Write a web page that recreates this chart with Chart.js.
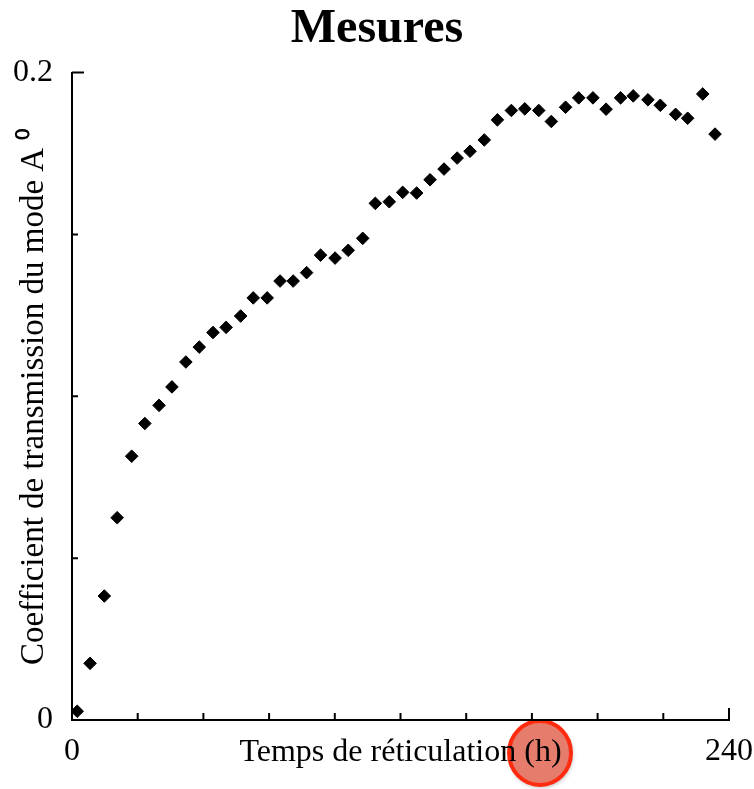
<!DOCTYPE html>
<html>
<head>
<meta charset="utf-8">
<script src="https://cdn.jsdelivr.net/npm/chart.js@4.4.1/dist/chart.umd.min.js"></script>
<style>
  html, body { margin: 0; padding: 0; background: #fff; }
  #wrap { width: 754px; height: 789px; position: relative; }
</style>
</head>
<body>
<div id="wrap"><canvas id="chart"></canvas></div>
<script>
// Temps de réticulation (h)
const timeHours = [
    1.9, 6.6, 11.8, 16.5, 21.8, 26.6, 31.8, 36.5, 41.6, 46.5,
    51.5, 56.3, 61.6, 66.2, 71.3, 76.0, 80.8, 85.7, 90.8, 96.1,
    100.9, 106.2, 110.8, 115.9, 120.8, 125.9, 130.8, 135.9, 140.7, 145.4,
    150.6, 155.4, 160.5, 165.4, 170.5, 175.1, 180.3, 185.1, 190.3, 195.1,
    200.4, 205.0, 210.4, 214.9, 220.5, 224.9, 230.4, 234.9
];
// Coefficient de transmission du mode A0
const coefficient = [
    0.0027, 0.0175, 0.0383, 0.0625, 0.0815, 0.0916, 0.0972, 0.1029, 0.1106, 0.1152,
    0.1197, 0.1213, 0.1248, 0.1304, 0.1304, 0.1356, 0.1356, 0.1382, 0.1436, 0.1427,
    0.1451, 0.1488, 0.1596, 0.1601, 0.1630, 0.1628, 0.1669, 0.1702, 0.1736, 0.1757,
    0.1792, 0.1854, 0.1883, 0.1888, 0.1883, 0.1849, 0.1893, 0.1922, 0.1922, 0.1887,
    0.1922, 0.1928, 0.1916, 0.1899, 0.1871, 0.1859, 0.1934, 0.1810
];

// seuls ces repères portent une étiquette
const xLabelValues = [0, 240];
const xLabelTexts = ['0', '240'];
const yLabelValues = [0, 0.2];
const yLabelTexts = ['0', '0.2'];

const serif = "'Liberation Serif', 'Times New Roman', serif";

function pickLabel(value, values, texts) {
    const i = values.findIndex(v => Math.abs(v - value) < 1e-9);
    return i >= 0 ? texts[i] : '';
}

// petits repères tournés vers l'intérieur
const innerTicks = {
    id: 'innerTicks',
    afterDraw(chart) {
        const { ctx, chartArea, scales: { x, y } } = chart;
        ctx.save();
        ctx.strokeStyle = '#000';
        ctx.lineWidth = 2;
        ctx.beginPath();
        x.ticks.forEach(t => {
            if (t.value === x.min) return;
            const px = x.getPixelForValue(t.value);
            const len = t.value === x.max ? 12 : 7;
            ctx.moveTo(px, chartArea.bottom);
            ctx.lineTo(px, chartArea.bottom - len);
        });
        y.ticks.forEach(t => {
            if (t.value === y.min) return;
            const py = y.getPixelForValue(t.value);
            const len = Math.abs(t.value - y.max) < 1e-9 ? 12 : 6;
            ctx.moveTo(chartArea.left, py);
            ctx.lineTo(chartArea.left + len, py);
        });
        ctx.stroke();
        ctx.restore();
    }
};

// cercle orange posé sur "(h)"
const highlight = {
    id: 'highlight',
    beforeDraw(chart) {
        const ctx = chart.ctx;
        ctx.save();
        ctx.shadowColor = 'rgba(0,0,0,0.35)';
        ctx.shadowBlur = 5;
        ctx.shadowOffsetX = 1;
        ctx.shadowOffsetY = 2;
        ctx.beginPath();
        ctx.ellipse(540, 753, 31, 32, 0, 0, Math.PI * 2);
        ctx.fillStyle = '#e57c6c';
        ctx.fill();
        ctx.shadowColor = 'transparent';
        ctx.lineWidth = 4;
        ctx.strokeStyle = '#ff2b0f';
        ctx.stroke();
        ctx.restore();
    }
};

new Chart(document.getElementById('chart'), {
    type: 'scatter',
    data: {
        datasets: [{
            label: 'Mesures',
            data: timeHours.map((t, i) => ({ x: t, y: coefficient[i] })),
            pointStyle: 'rectRot',
            pointRadius: 6.3,
            pointHoverRadius: 6.3,
            backgroundColor: '#000',
            borderColor: '#000',
            borderWidth: 1
        }]
    },
    options: {
        responsive: true,
        maintainAspectRatio: false,
        animation: false,
        layout: { padding: 0 },
        plugins: {
            legend: { display: false },
            tooltip: { enabled: false },
            title: {
                display: true,
                text: 'Mesures',
                color: '#000',
                font: { family: serif, size: 48, weight: 'bold' },
                padding: { top: 1, bottom: 14 }
            }
        },
        scales: {
            x: {
                type: 'linear',
                min: 0,
                max: 240,
                afterFit(scale) {
                    scale.height = 69;
                    scale.paddingLeft = 0;
                    scale.paddingRight = 25;
                },
                grid: { display: false, drawTicks: false },
                border: { color: '#000', width: 2 },
                ticks: {
                    stepSize: 24,
                    autoSkip: false,
                    maxRotation: 0,
                    padding: 12,
                    color: '#000',
                    font: { family: serif, size: 32 },
                    callback: v => pickLabel(v, xLabelValues, xLabelTexts)
                },
                title: {
                    display: true,
                    text: 'Temps de réticulation (h)',
                    color: '#000',
                    font: { family: serif, size: 32 },
                    padding: { top: 0, bottom: 17 }
                }
            },
            y: {
                min: 0,
                max: 0.2,
                afterFit(scale) { scale.width = 72; },
                grid: { display: false, drawTicks: false },
                border: { color: '#000', width: 2 },
                ticks: {
                    stepSize: 0.05,
                    autoSkip: false,
                    padding: 19,
                    color: '#000',
                    font: { family: serif, size: 32 },
                    callback: v => pickLabel(v, yLabelValues, yLabelTexts)
                },
                title: {
                    display: true,
                    text: 'Coefficient de transmission du mode A ⁰',
                    color: '#000',
                    font: { family: serif, size: 33 },
                    padding: { top: 15, bottom: 0 }
                }
            }
        }
    },
    plugins: [innerTicks, highlight]
});
</script>
</body>
</html>
